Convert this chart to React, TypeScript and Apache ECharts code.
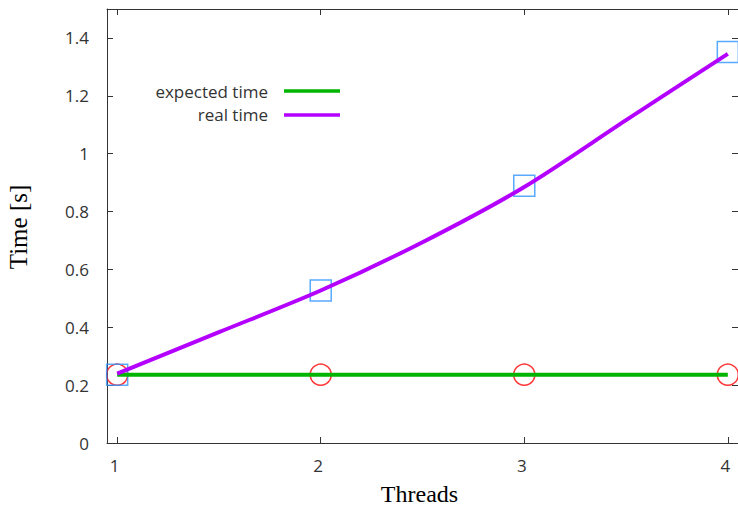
import React, { useEffect, useRef } from "react";
import * as echarts from "echarts";

const threadTicks = [1, 2, 3, 4];
const timeTicks = [0, 0.2, 0.4, 0.6, 0.8, 1, 1.2, 1.4];

const seriesNames = ["expected time", "real time"];

// expected time (flat line + circle markers)
const expectedThreads = [1, 2, 3, 4];
const expectedTimes = [0.236, 0.236, 0.236, 0.236];

// real time measured points (square markers)
const realThreads = [1, 2, 3, 4];
const realTimes = [0.236, 0.527, 0.889, 1.351];

// real time smoothed curve
const curveThreads = [1, 1.5, 2, 2.5, 3, 3.5, 4];
const curveTimes = [0.24, 0.383, 0.527, 0.694, 0.885, 1.116, 1.345];

const GREEN = "#00b400";
const PURPLE = "#b400ff";
const BLUE = "#2f93ff";
const RED = "#ff0000";
const AXIS = "#333333";
const SANS = "'Open Sans', 'DejaVu Sans', sans-serif";
const SERIF = "'Liberation Serif', 'DejaVu Serif', serif";

export default function App() {
  const ref = useRef<HTMLDivElement>(null);

  useEffect(() => {
    if (!ref.current) return;
    const chart = echarts.init(ref.current, null, { renderer: "svg" });

    const zip = (xs: number[], ys: number[]) => xs.map((x, i) => [x, ys[i]]);

    const baseX = {
      type: "value" as const,
      min: 0.95,
      max: 4.05,
      splitLine: { show: false },
      axisLine: { show: true, onZero: false, lineStyle: { color: AXIS, width: 1 } },
      axisTick: { show: true, inside: true, length: 6, customValues: threadTicks, lineStyle: { color: AXIS } },
    };
    const baseY = {
      type: "value" as const,
      min: 0,
      max: 1.5,
      splitLine: { show: false },
      axisLine: { show: true, onZero: false, lineStyle: { color: AXIS, width: 1 } },
      axisTick: { show: true, inside: true, length: 6, customValues: timeTicks, lineStyle: { color: AXIS } },
    };

    chart.setOption({
      animation: false,
      backgroundColor: "#ffffff",
      grid: { left: 107, top: 9, width: 632.4, bottom: 63, containLabel: false },
      xAxis: [
        {
          ...baseX,
          position: "bottom",
          axisLabel: {
            show: true,
            customValues: threadTicks,
            margin: 14,
            color: AXIS,
            fontFamily: SANS,
            fontSize: 17,
            padding: [0, 5, 0, 0],
          },
        },
        { ...baseX, position: "top", axisLabel: { show: false } },
      ],
      yAxis: [
        {
          ...baseY,
          position: "left",
          axisLabel: {
            show: true,
            customValues: timeTicks,
            margin: 18,
            color: AXIS,
            fontFamily: SANS,
            fontSize: 17,
          },
        },
        { ...baseY, position: "right", axisLabel: { show: false } },
      ],
      series: [
        {
          name: "expected markers",
          type: "scatter",
          data: zip(expectedThreads, expectedTimes),
          symbol: "circle",
          symbolSize: 21,
          itemStyle: { color: "rgba(0,0,0,0)", borderColor: RED, borderWidth: 1.5 },
          z: 2,
        },
        {
          name: "real markers",
          type: "scatter",
          data: zip(realThreads, realTimes),
          symbol: "rect",
          symbolSize: 21,
          itemStyle: { color: "rgba(0,0,0,0)", borderColor: BLUE, borderWidth: 1.5 },
          z: 2,
        },
        {
          name: seriesNames[0],
          type: "line",
          data: zip(expectedThreads, expectedTimes),
          showSymbol: false,
          symbol: "none",
          lineStyle: { color: GREEN, width: 4 },
          z: 3,
        },
        {
          name: seriesNames[1],
          type: "line",
          data: zip(curveThreads, curveTimes),
          showSymbol: false,
          symbol: "none",
          smooth: 0.3,
          lineStyle: { color: PURPLE, width: 4 },
          z: 4,
        },
      ],
      graphic: [
        {
          type: "text",
          x: 268,
          y: 91,
          style: { text: seriesNames[0], align: "right", verticalAlign: "middle", font: `17px ${SANS}`, fill: AXIS },
        },
        {
          type: "line",
          shape: { x1: 284, y1: 91, x2: 340, y2: 91 },
          style: { stroke: GREEN, lineWidth: 3.5 },
        },
        {
          type: "text",
          x: 268,
          y: 114,
          style: { text: seriesNames[1], align: "right", verticalAlign: "middle", font: `17px ${SANS}`, fill: AXIS },
        },
        {
          type: "line",
          shape: { x1: 284, y1: 115, x2: 340, y2: 115 },
          style: { stroke: PURPLE, lineWidth: 3.5 },
        },
        {
          type: "text",
          x: 419.5,
          y: 493.5,
          style: { text: "Threads", align: "center", verticalAlign: "middle", font: `24px ${SERIF}`, fill: "#000" },
        },
        {
          type: "text",
          x: 18.5,
          y: 227,
          rotation: Math.PI / 2,
          style: { text: "Time [s]", align: "center", verticalAlign: "middle", font: `25px ${SERIF}`, fill: "#000" },
        },
      ],
    });

    return () => chart.dispose();
  }, []);

  return (
    <div
      ref={ref}
      style={{ position: "absolute", left: 0, top: 0, width: 738, height: 506 }}
    />
  );
}
